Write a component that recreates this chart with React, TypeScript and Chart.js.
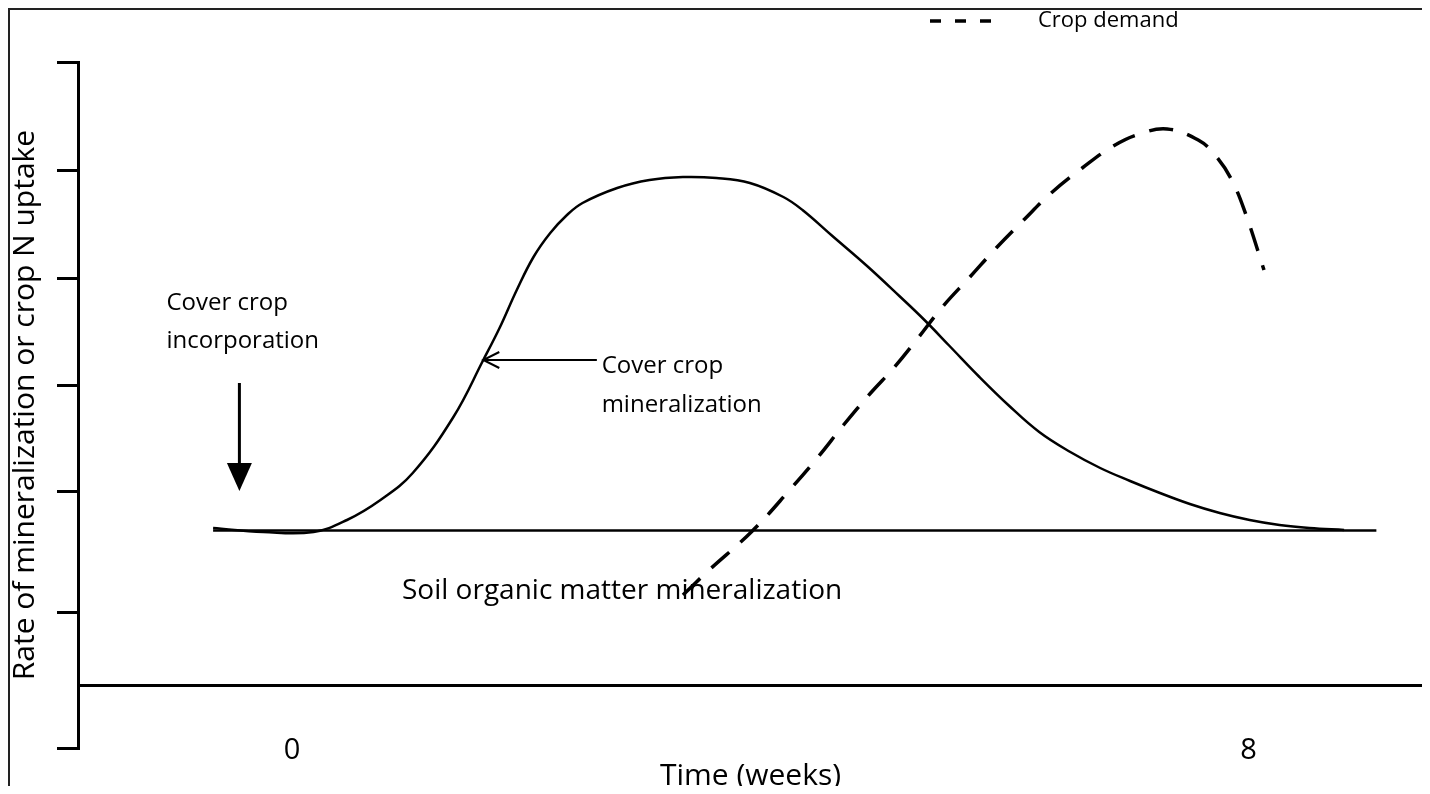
import React, { useEffect, useRef } from 'react';
import { Chart, registerables } from 'chart.js';

Chart.register(...registerables);

const FONT = '"Open Sans", "Noto Sans", sans-serif';

// ---- Data (x in weeks, y in relative rate units) ----
const COVER_X = [-0.66, -0.24, 0.18, 0.46, 0.74, 1.01, 1.35, 1.6, 1.74, 1.88, 2.02, 2.16, 2.3, 2.43, 2.72, 2.99, 3.27, 3.55, 3.83, 4.11, 4.27, 4.52, 4.81, 5.08, 5.29, 5.5, 5.75, 6.0, 6.25, 6.51, 6.76, 7.01, 7.26, 7.51, 7.76, 8.01, 8.26, 8.51, 8.8];
const COVER_Y = [15.7, 15.3, 15.3, 16.5, 18.5, 21.2, 26.8, 32.5, 35.8, 39.5, 42.8, 45.2, 47.0, 48.2, 49.7, 50.5, 50.8, 50.7, 50.2, 48.8, 47.5, 44.9, 41.9, 38.9, 36.5, 33.9, 30.8, 27.9, 25.3, 23.3, 21.7, 20.4, 19.2, 18.1, 17.2, 16.5, 16.0, 15.7, 15.5];

const SOIL_X = [-0.66, 9.07];
const SOIL_Y = [15.45, 15.45];

const DEMAND_X = [3.27, 3.48, 3.85, 4.17, 4.4, 4.62, 4.84, 5.04, 5.23, 5.44, 5.67, 5.89, 6.12, 6.35, 6.61, 6.87, 7.09, 7.32, 7.58, 7.72, 7.86, 7.98, 8.13];
const DEMAND_Y = [9.0, 11.4, 15.4, 19.6, 22.8, 26.1, 29.2, 31.8, 34.6, 37.8, 40.8, 43.7, 46.5, 49.2, 51.7, 53.9, 55.1, 55.6, 54.5, 53.0, 50.5, 47.0, 41.5];

const SERIES_NAMES = ['Cover crop mineralization', 'Soil organic matter mineralization', 'Crop demand'];
const LEGEND_INDEX = 2;

// ---- Axes ----
const X_MIN = -1.79;
const X_MAX = 9.46;
const X_TICKS = [0, 8];
const X_TICK_LABELS = ['0', '8'];
const Y_MIN = -6.3;
const Y_MAX = 62.3;
const Y_TICKS = [-6.3, 0, 7.3, 19.3, 30, 40.7, 51.5, 62.3];
const X_TITLE = 'Time (weeks)';
const Y_TITLE = 'Rate of mineralization or crop N uptake';

// ---- Annotations (data coordinates) ----
const INCORP_TEXT = ['Cover crop', 'incorporation'];
const INCORP_TEXT_X = -1.05;
const INCORP_TEXT_Y = [37.5, 33.7];
const INCORP_ARROW_X = -0.44;
const INCORP_ARROW_Y = [30.2, 22.2, 19.4];

const MIN_TEXT = ['Cover crop', 'mineralization'];
const MIN_TEXT_X = 2.59;
const MIN_TEXT_Y = [31.2, 27.3];
const MIN_ARROW_X = [2.55, 1.6];
const MIN_ARROW_Y = 32.5;

const SOIL_TEXT = 'Soil organic matter mineralization';
const SOIL_TEXT_X = 0.92;
const SOIL_TEXT_Y = 8.6;

const LEGEND_LEFT = 920;
const LEGEND_TOP = 0;
const LEGEND_DASH = [11, 14, 11, 14, 11, 100];

const toPoints = (xs: number[], ys: number[]) => xs.map((x, i) => ({ x, y: ys[i] }));

const placeLegend = {
  id: 'placeLegend',
  afterLayout(chart: any) {
    const lg = chart.legend;
    if (!lg) return;
    const w = lg.width;
    const h = lg.height;
    lg.left = LEGEND_LEFT;
    lg.right = LEGEND_LEFT + w;
    lg.top = LEGEND_TOP;
    lg.bottom = LEGEND_TOP + h;
  },
};

const annotations = {
  id: 'annotations',
  afterDatasetsDraw(chart: any) {
    const { ctx } = chart;
    const xs = chart.scales.x;
    const ys = chart.scales.y;
    const px = (v: number) => xs.getPixelForValue(v);
    const py = (v: number) => ys.getPixelForValue(v);
    ctx.save();
    ctx.fillStyle = '#000';
    ctx.strokeStyle = '#000';
    ctx.textAlign = 'left';
    ctx.textBaseline = 'alphabetic';
    ctx.font = `24px ${FONT}`;
    INCORP_TEXT.forEach((t, i) => ctx.fillText(t, px(INCORP_TEXT_X), py(INCORP_TEXT_Y[i])));
    MIN_TEXT.forEach((t, i) => ctx.fillText(t, px(MIN_TEXT_X), py(MIN_TEXT_Y[i])));
    ctx.font = `28px ${FONT}`;
    ctx.fillText(SOIL_TEXT, px(SOIL_TEXT_X), py(SOIL_TEXT_Y));

    // incorporation arrow (down)
    const ax = px(INCORP_ARROW_X);
    const a0 = py(INCORP_ARROW_Y[0]);
    const aHead = py(INCORP_ARROW_Y[1]);
    const aTip = py(INCORP_ARROW_Y[2]);
    ctx.lineWidth = 3;
    ctx.beginPath();
    ctx.moveTo(ax, a0);
    ctx.lineTo(ax, aHead);
    ctx.stroke();
    ctx.beginPath();
    ctx.moveTo(ax - 12.5, aHead);
    ctx.lineTo(ax + 12.5, aHead);
    ctx.lineTo(ax, aTip);
    ctx.closePath();
    ctx.fill();

    // mineralization arrow (left)
    const m0 = px(MIN_ARROW_X[0]);
    const m1 = px(MIN_ARROW_X[1]);
    const my = py(MIN_ARROW_Y);
    ctx.lineWidth = 2;
    ctx.beginPath();
    ctx.moveTo(m0, my);
    ctx.lineTo(m1, my);
    ctx.moveTo(m1 + 16, my - 8);
    ctx.lineTo(m1, my);
    ctx.lineTo(m1 + 16, my + 8);
    ctx.stroke();
    ctx.restore();
  },
};

export default function App() {
  const ref = useRef<HTMLCanvasElement>(null);

  useEffect(() => {
    if (!ref.current) return;
    Chart.defaults.font.family = FONT;
    const chart = new Chart(ref.current, {
      type: 'line',
      data: {
        datasets: [
          {
            label: SERIES_NAMES[0],
            data: toPoints(COVER_X, COVER_Y),
            borderColor: '#000',
            backgroundColor: '#000',
            borderWidth: 2.5,
            pointRadius: 0,
            tension: 0.4,
            fill: false,
          },
          {
            label: SERIES_NAMES[1],
            data: toPoints(SOIL_X, SOIL_Y),
            borderColor: '#000',
            backgroundColor: '#000',
            borderWidth: 2.5,
            pointRadius: 0,
            fill: false,
          },
          {
            label: SERIES_NAMES[2],
            data: toPoints(DEMAND_X, DEMAND_Y),
            borderColor: '#000',
            backgroundColor: '#000',
            borderWidth: 3.5,
            borderDash: [24, 15],
            pointRadius: 0,
            tension: 0.4,
            fill: false,
          },
        ],
      },
      options: {
        responsive: false,
        animation: false,
        events: [],
        layout: { padding: 0 },
        plugins: {
          tooltip: { enabled: false },
          title: { display: false },
          legend: {
            display: true,
            position: 'top',
            align: 'start',
            labels: {
              usePointStyle: true,
              pointStyle: 'line',
              pointStyleWidth: 97,
              padding: 0,
              color: '#000',
              font: { family: FONT, size: 22 },
              generateLabels: (c: any) =>
                (Chart.defaults.plugins.legend.labels as any)
                  .generateLabels(c)
                  .filter((l: any) => l.datasetIndex === LEGEND_INDEX)
                  .map((l: any) => ({
                    ...l,
                    lineDash: LEGEND_DASH,
                    lineWidth: 3.5,
                    strokeStyle: '#000',
                    fillStyle: 'rgba(0,0,0,0)',
                    pointStyle: 'line',
                    fontColor: '#000',
                  })),
            },
          },
        },
        scales: {
          x: {
            type: 'linear',
            min: X_MIN,
            max: X_MAX,
            afterBuildTicks: (s: any) => {
              s.ticks = X_TICKS.map((v) => ({ value: v }));
            },
            afterFit: (s: any) => {
              s.height = 46;
              s.paddingLeft = 0;
              s.paddingRight = 0;
            },
            ticks: {
              color: '#000',
              font: { family: FONT, size: 29 },
              mirror: true,
              padding: -20,
              autoSkip: false,
              maxRotation: 0,
              callback: (_v: any, i: number) => X_TICK_LABELS[i],
            },
            grid: { display: false, drawTicks: false },
            border: { display: false },
            title: {
              display: true,
              text: X_TITLE,
              color: '#000',
              font: { family: FONT, size: 30, lineHeight: 1 },
              padding: { top: 0, bottom: 3 },
            },
          },
          y: {
            type: 'linear',
            min: Y_MIN,
            max: Y_MAX,
            afterBuildTicks: (s: any) => {
              s.ticks = Y_TICKS.map((v) => ({ value: v }));
            },
            afterFit: (s: any) => {
              s.width = 68;
              s.paddingTop = 52;
            },
            ticks: { display: false },
            grid: {
              color: (c: any) => (c.tick && c.tick.value === 0 ? '#000' : 'rgba(0,0,0,0)'),
              tickColor: (c: any) => (c.tick && c.tick.value === 0 ? 'rgba(0,0,0,0)' : '#000'),
              lineWidth: 3,
              tickWidth: 3,
              tickLength: 21,
              drawTicks: true,
            },
            border: { display: true, color: '#000', width: 3 },
            title: {
              display: true,
              text: Y_TITLE,
              color: '#000',
              font: { family: FONT, size: 30, lineHeight: 1 },
              padding: 0,
            },
          },
        },
      } as any,
      plugins: [placeLegend, annotations],
    });
    return () => chart.destroy();
  }, []);

  return (
    <div
      style={{
        width: 1417,
        height: 786,
        boxSizing: 'border-box',
        borderTop: '2px solid #222',
        borderLeft: '2px solid #222',
        borderRight: '2px solid #222',
        marginBottom: -8,
        background: '#fff',
      }}
    >
      <canvas ref={ref} width={1413} height={784} style={{ display: 'block' }} />
    </div>
  );
}
